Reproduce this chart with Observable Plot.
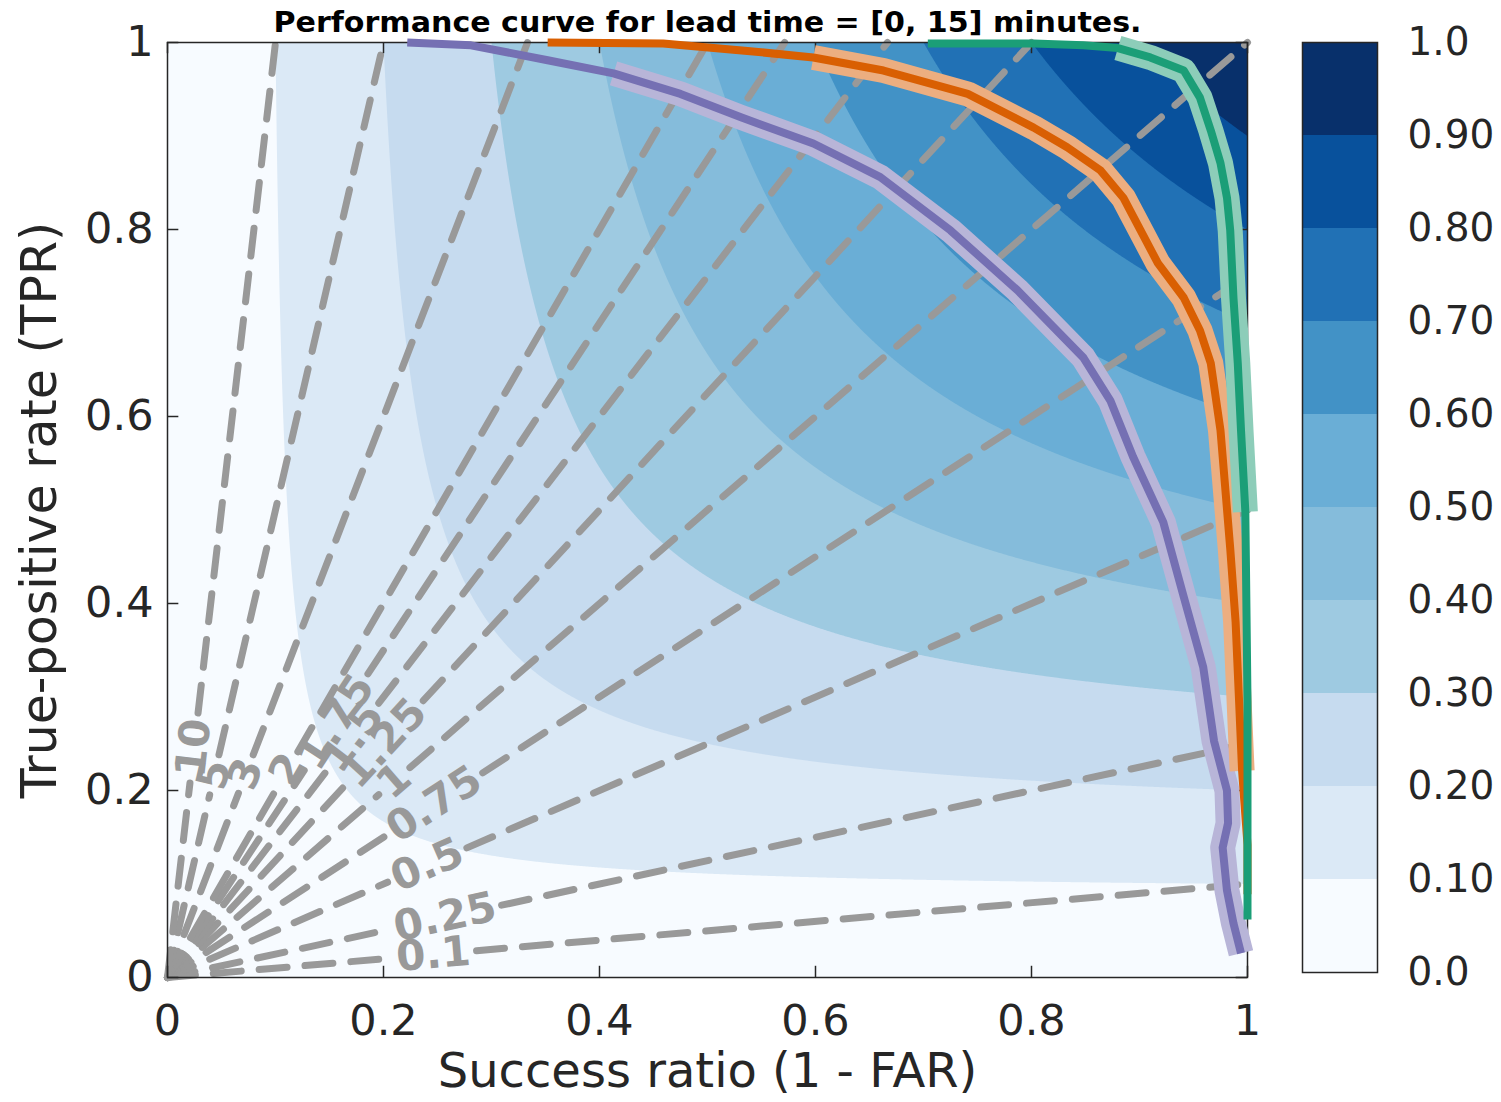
<!DOCTYPE html>
<html><head><meta charset="utf-8">
<script src="https://cdn.jsdelivr.net/npm/d3@7"></script>
<script src="https://cdn.jsdelivr.net/npm/@observablehq/plot@0.6"></script>
<style>
body{margin:0;background:#fff;}
#wrap{position:relative;width:1501px;height:1102px;overflow:hidden;background:#fff;}
#wrap svg{position:absolute;top:0;}
</style></head><body><div id="wrap"></div>
<script>
// ---------- text ----------
const title = "Performance curve for lead time = [0, 15] minutes.";
const xLabel = "Success ratio (1 - FAR)";
const yLabel = "True-positive rate (TPR)";

// ---------- axes ----------
const axisTicks = [0, 0.2, 0.4, 0.6, 0.8, 1];
const axisTickLabels = ["0", "0.2", "0.4", "0.6", "0.8", "1"];

// ---------- CSI background ----------
const csiLevels = [0, 0.1, 0.2, 0.3, 0.4, 0.5, 0.6, 0.7, 0.8, 0.9, 1.0];
const csiColors = ["#f7fbff", "#dbe9f6", "#c6dbef", "#9ecae1", "#85bcdb", "#6aaed6", "#4292c6", "#2171b5", "#08519c", "#08306b"];
const colorbarLabels = ["0.0", "0.10", "0.20", "0.30", "0.40", "0.50", "0.60", "0.70", "0.80", "0.90", "1.0"];

// ---------- frequency-bias lines ----------
const biasValues = [0.1, 0.25, 0.5, 0.75, 1, 1.25, 1.5, 1.75, 2, 3, 5, 10];
const biasLabels = ["0.1", "0.25", "0.5", "0.75", "1", "1.25", "1.5", "1.75", "2", "3", "5", "10"];

// ---------- performance curves (success ratio, POD) ----------
const purpleSR  = [0.222, 0.281, 0.352, 0.413, 0.475, 0.531, 0.598, 0.660, 0.725, 0.787, 0.848, 0.873, 0.894, 0.922, 0.941, 0.959, 0.969, 0.981, 0.982, 0.977, 0.981, 0.987, 0.994];
const purplePOD = [1.000, 0.997, 0.981, 0.967, 0.945, 0.920, 0.892, 0.856, 0.799, 0.735, 0.663, 0.617, 0.557, 0.487, 0.407, 0.332, 0.253, 0.200, 0.165, 0.139, 0.093, 0.058, 0.026];
const orangeSR  = [0.352, 0.459, 0.537, 0.598, 0.663, 0.741, 0.802, 0.833, 0.864, 0.885, 0.901, 0.917, 0.941, 0.956, 0.966, 0.975, 0.984, 0.989, 0.992, 0.995, 1.000, 1.000];
const orangePOD = [1.000, 0.999, 0.991, 0.984, 0.970, 0.945, 0.909, 0.888, 0.863, 0.834, 0.799, 0.764, 0.727, 0.692, 0.657, 0.585, 0.459, 0.380, 0.301, 0.221, 0.142, 0.089];
const greenSR   = [0.704, 0.802, 0.848, 0.880, 0.910, 0.941, 0.956, 0.966, 0.975, 0.981, 0.984, 0.987, 0.991, 0.994, 0.998, 1.000, 1.000];
const greenPOD  = [0.999, 0.999, 0.997, 0.994, 0.984, 0.970, 0.941, 0.906, 0.871, 0.834, 0.799, 0.727, 0.657, 0.585, 0.498, 0.296, 0.062];

// ---------- layout / style (not data) ----------
const W = 1501, H = 1102;
const mL = 167, mR = 254, mT = 42, mB = 125;
const plotW = W - mL - mR, plotH = H - mT - mB;
const biasLabelRadiusPx = [267, 284, 283, 318, 300, 319, 303, 306, 240, 218, 208, 231];
const biasFont = 42;
const series = [
  {sr: purpleSR, pod: purplePOD, line: "#7570b3", band: "#b8b5d8", bandFrom: 3, bandTo: purpleSR.length},
  {sr: orangeSR, pod: orangePOD, line: "#d95f02", band: "#ecae80", bandFrom: 3, bandTo: 20},
  {sr: greenSR, pod: greenPOD, line: "#1b9e77", band: "#8dcdb9", bandFrom: 3, bandTo: 15}
];

const csi = (sr, pod) => (sr <= 0 || pod <= 0) ? 0 : 1 / (1 / sr + 1 / pod - 1);

// bias lines split around their labels
function textWidth(s) { let w = 0; for (const c of s) w += (c === "." ? 0.38 : 0.696); return w * biasFont; }
const biasSegs = [];
const biasText = [];
biasValues.forEach((b, i) => {
  const L = Math.hypot(plotW, plotH * b);          // px per unit of x
  const tEnd = Math.min(1, 1 / b);
  const r = biasLabelRadiusPx[i];
  const gap = textWidth(biasLabels[i]) / 2 + 6;
  const t1 = (r - gap) / L, t2 = (r + gap) / L;
  for (const t of [0, t1]) biasSegs.push({x: t, y: b * t, k: i + "a"});
  for (const t of [t2, tEnd]) biasSegs.push({x: t, y: b * t, k: i + "b"});
  const tc = r / L;
  biasText.push({x: tc, y: b * tc, label: biasLabels[i], rot: -Math.atan2(plotH * b, plotW) * 180 / Math.PI});
});

const curveMarks = [];
for (const s of series) {
  const pts = s.sr.map((x, i) => ({x, y: s.pod[i]}));
  curveMarks.push(Plot.line(pts.slice(s.bandFrom, s.bandTo), {x: "x", y: "y", stroke: s.band, strokeWidth: 25, strokeLinejoin: "round", strokeLinecap: "butt"}));
  curveMarks.push(Plot.line(pts, {x: "x", y: "y", stroke: s.line, strokeWidth: 8, strokeLinejoin: "round", strokeLinecap: "butt"}));
}

const tickColor = "#262626";
const main = Plot.plot({
  width: W, height: H,
  marginLeft: mL, marginRight: mR, marginTop: mT, marginBottom: mB,
  style: {fontFamily: "'DejaVu Sans'", fontSize: "43px", color: tickColor, background: "transparent", overflow: "visible"},
  x: {domain: [0, 1]},
  y: {domain: [0, 1]},
  color: {type: "threshold", domain: csiLevels.slice(1, -1), range: csiColors},
  marks: [
    Plot.contour({fill: csi, x1: 0, y1: 0, x2: 1, y2: 1, thresholds: csiLevels.slice(0, -1), stroke: "none", pixelSize: 1}),
    Plot.line(biasSegs, {x: "x", y: "y", z: "k", stroke: "#999999", strokeWidth: 7, strokeDasharray: "28,18"}),
    Plot.text(biasText, {x: "x", y: "y", text: "label", rotate: "rot", fill: "#999999", fontWeight: "bold", fontSize: biasFont, textAnchor: "middle", lineAnchor: "middle"}),
    Plot.frame({stroke: tickColor, strokeWidth: 1.5}),
    Plot.ruleX(axisTicks, {x: d => d, y1: 0, y2: 0.012, stroke: tickColor, strokeWidth: 1.5}),
    Plot.ruleX(axisTicks, {x: d => d, y1: 0.988, y2: 1, stroke: tickColor, strokeWidth: 1.5}),
    Plot.ruleY(axisTicks, {y: d => d, x1: 0, x2: 0.0105, stroke: tickColor, strokeWidth: 1.5}),
    Plot.ruleY(axisTicks, {y: d => d, x1: 0.9895, x2: 1, stroke: tickColor, strokeWidth: 1.5}),
    ...curveMarks,
    Plot.axisX({ticks: axisTicks, tickFormat: d => axisTickLabels[axisTicks.indexOf(d)], tickSize: 0, tickPadding: 27, label: null}),
    Plot.axisY({ticks: axisTicks, tickFormat: d => axisTickLabels[axisTicks.indexOf(d)], tickSize: 0, tickPadding: 14, label: null}),
    Plot.text([xLabel], {frameAnchor: "bottom", dy: 94, fontSize: 48, fill: tickColor, textAnchor: "middle", lineAnchor: "middle"}),
    Plot.text([yLabel], {frameAnchor: "left", dx: -127, rotate: -90, fontSize: 49, fill: tickColor, textAnchor: "middle", lineAnchor: "middle"}),
    Plot.text([title], {frameAnchor: "top", dy: -20, fontSize: 29, fontWeight: "bold", fill: "#000", textAnchor: "middle", lineAnchor: "middle"})
  ]
});
main.style.left = "0px";

for (const t of main.querySelectorAll("text")) {
  if (t.textContent === title) { t.setAttribute("textLength", "868"); t.setAttribute("lengthAdjust", "spacingAndGlyphs"); }
}

// ---------- colour bar ----------
const cbBands = csiColors.map((c, i) => ({lo: csiLevels[i], hi: csiLevels[i + 1], color: c}));
const cb = Plot.plot({
  width: 211, height: H,
  marginTop: 42, marginBottom: 130, marginLeft: 12, marginRight: 124,
  style: {fontFamily: "'DejaVu Sans'", fontSize: "39px", color: tickColor, background: "transparent", overflow: "visible"},
  x: {domain: [0, 1], axis: null},
  y: {domain: [0, 1]},
  color: {type: "identity"},
  marks: [
    Plot.rect(cbBands, {x1: 0, x2: 1, y1: "lo", y2: "hi", fill: "color"}),
    Plot.frame({stroke: tickColor, strokeWidth: 1.5}),
    Plot.axisY({anchor: "right", ticks: csiLevels, tickFormat: d => colorbarLabels[csiLevels.indexOf(d)], tickSize: 0, tickPadding: 30, label: null})
  ]
});
cb.style.left = "1290px";

const wrap = document.getElementById("wrap");
wrap.appendChild(main);
wrap.appendChild(cb);
</script></body></html>
